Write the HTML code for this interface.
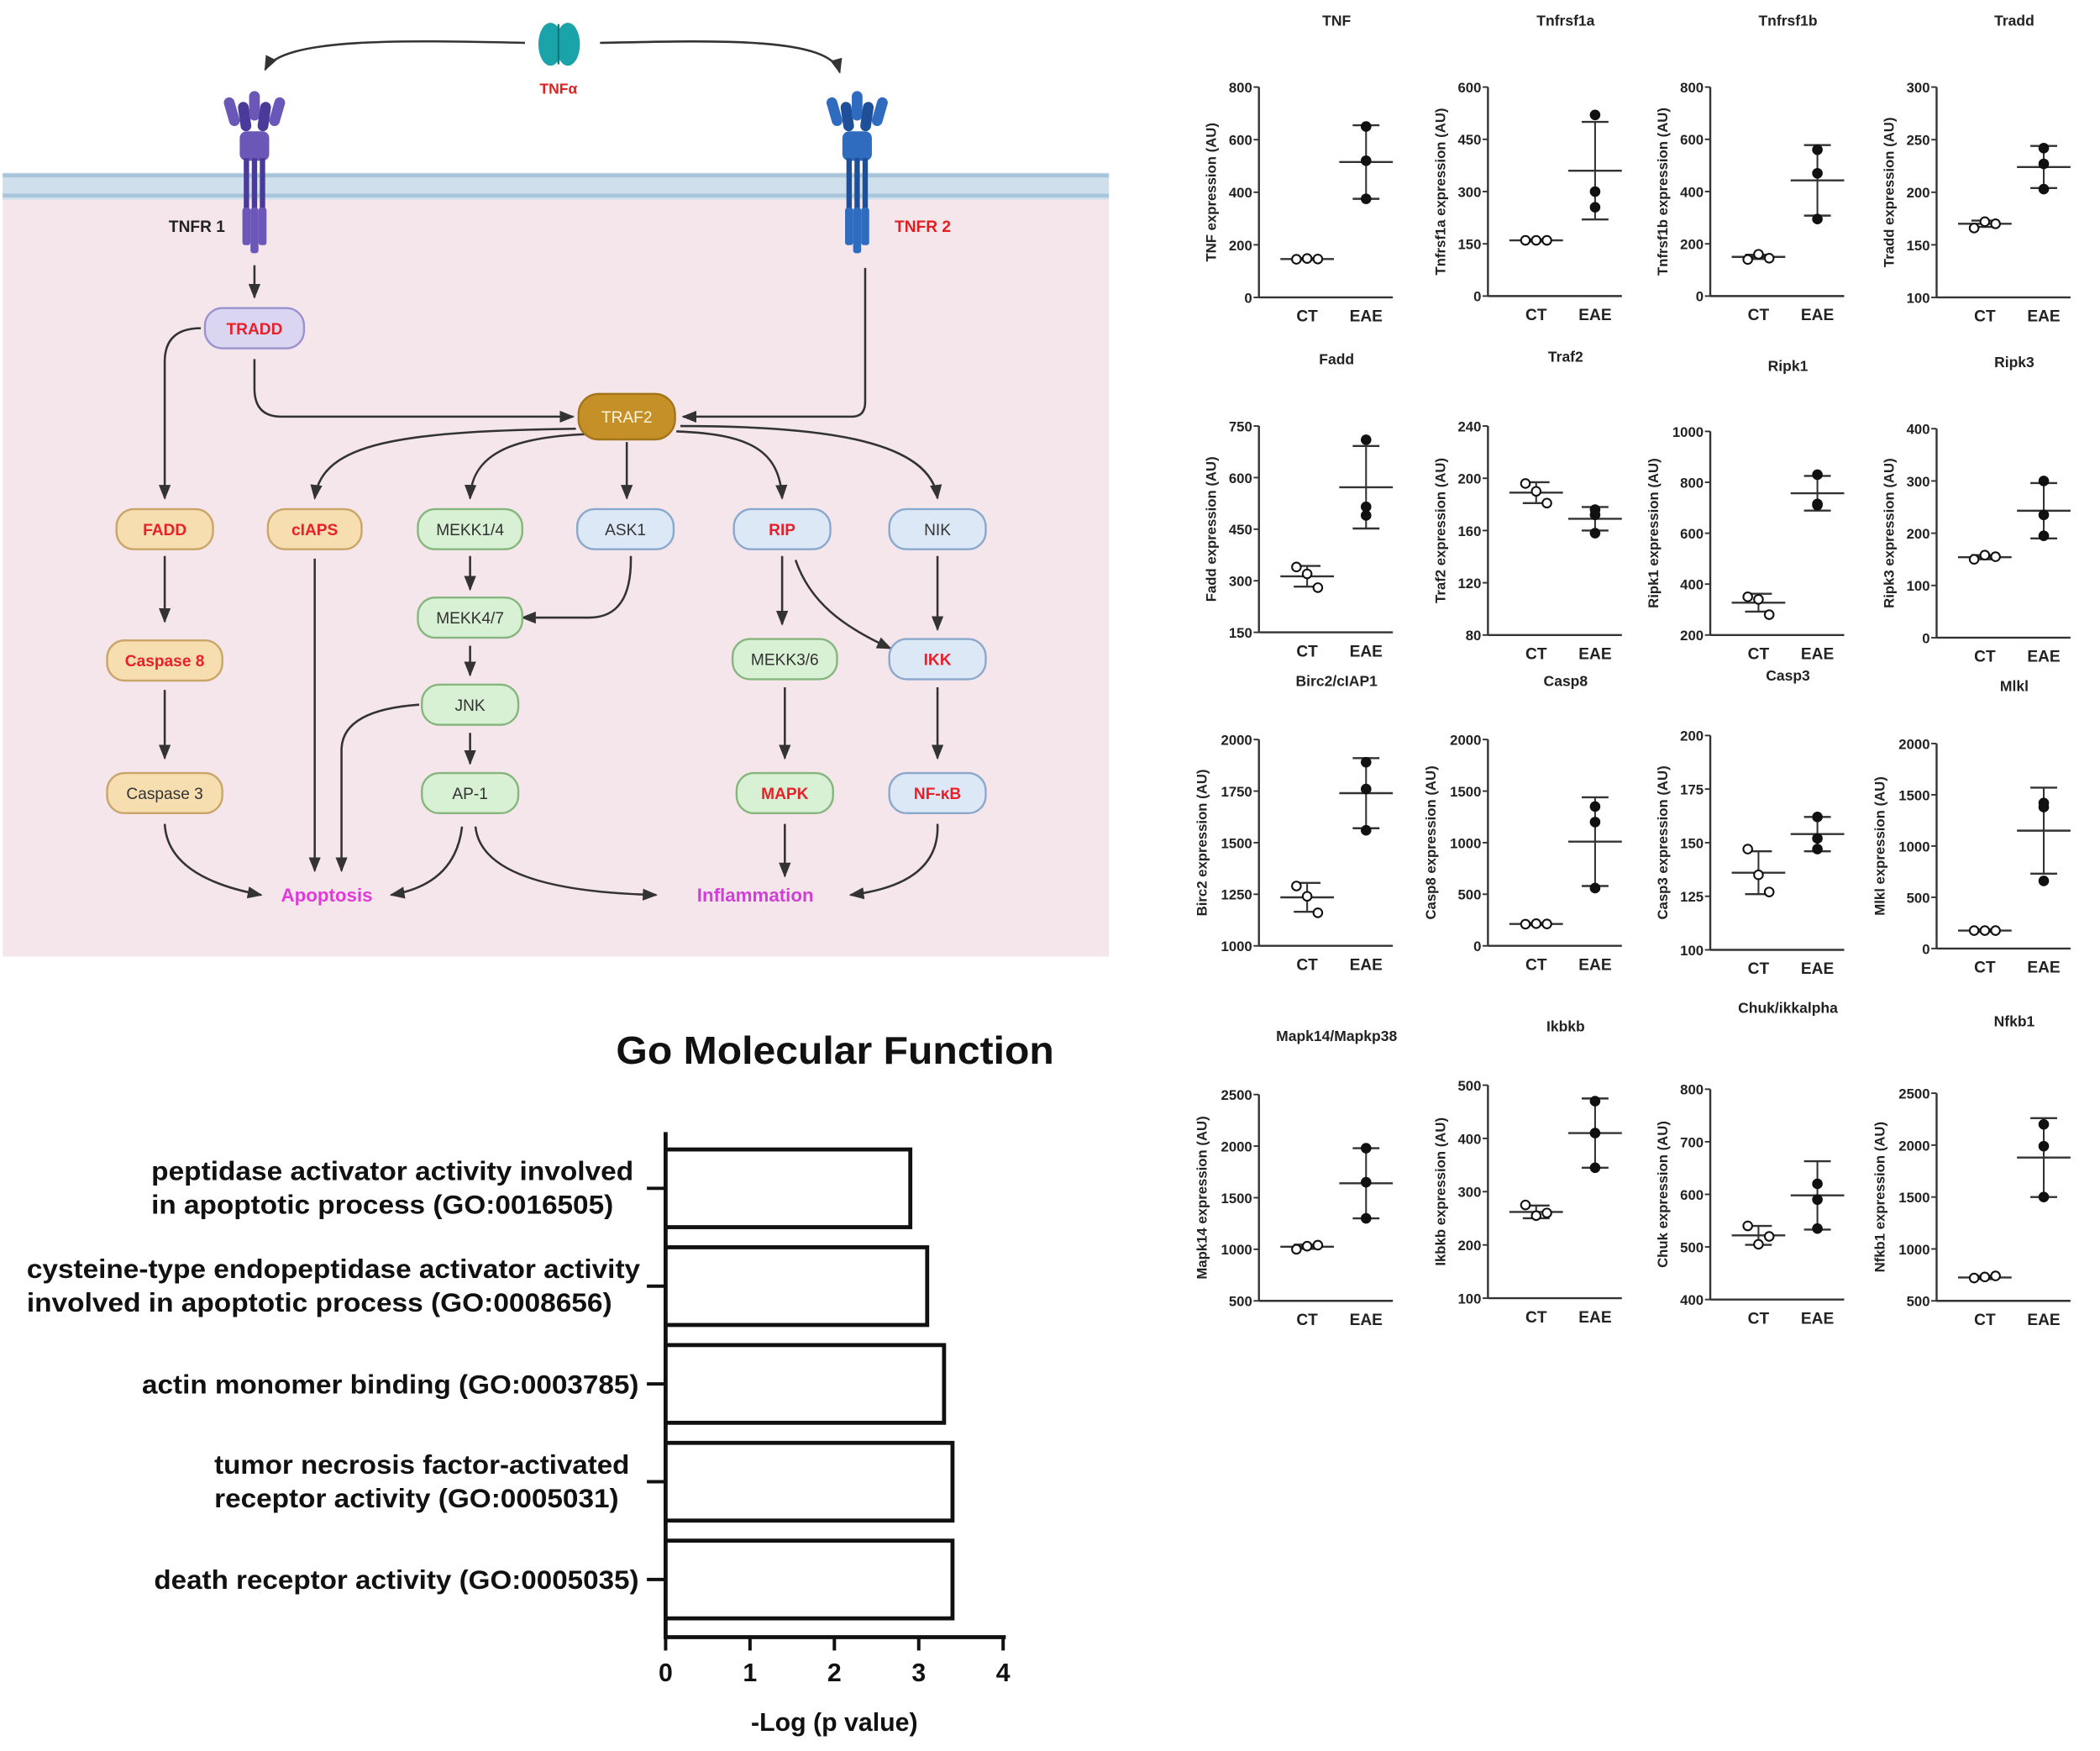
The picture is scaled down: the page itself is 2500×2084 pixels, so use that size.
<!DOCTYPE html>
<html><head><meta charset="utf-8"><style>
html,body{margin:0;padding:0;background:#fff}
svg{display:block}
text{font-family:"Liberation Sans",Arial,sans-serif}
</style></head><body>
<svg id="s" width="2500" height="2084" viewBox="0 0 1568 1307" preserveAspectRatio="none" xmlns="http://www.w3.org/2000/svg">
<defs>
<marker id="ar" viewBox="0 0 10 10" refX="9" refY="5" markerWidth="7" markerHeight="7" orient="auto"><path d="M0,1 L10,5 L0,9 z" fill="#333"/></marker>
</defs>
<rect x="2" y="140" width="826" height="574" fill="#f5e6ec"/>
<rect x="2" y="129" width="826" height="20" fill="#cfe0ec"/>
<line x1="2" y1="131" x2="828" y2="131" stroke="#a9c5da" stroke-width="3"/>
<line x1="2" y1="146" x2="828" y2="146" stroke="#a9c5da" stroke-width="3"/>
<ellipse cx="411" cy="33" rx="9" ry="16" fill="#1aa3a8"/><ellipse cx="424" cy="33" rx="9" ry="16" fill="#1aa3a8"/>
<line x1="417" y1="18" x2="417" y2="48" stroke="#0d7c80" stroke-width="1.5"/>
<text x="417" y="70" font-size="11" font-weight="bold" fill="#e02020" text-anchor="middle">TNFα</text>
<g fill="none" stroke="#333" stroke-width="1.6" marker-end="url(#ar)">
<path d="M392,32 C300,30 210,28 198,52"/>
<path d="M448,32 C540,30 620,28 627,54"/>
<path d="M190,198 L190,222"/>
<path d="M190,268 L190,290 Q190,311 210,311 L428,311"/>
<path d="M646,200 L646,300 Q646,311 636,311 L510,311"/>
<path d="M150,245 Q123,245 123,270 L123,372"/>
<path d="M430,320 C300,322 240,330 235,372"/>
<path d="M440,324 C380,326 352,340 351,372"/>
<path d="M468,330 L468,372"/>
<path d="M505,322 C560,324 582,336 584,372"/>
<path d="M508,318 C620,318 695,330 700,372"/>
<path d="M123,415 L123,464"/>
<path d="M123,515 L123,566"/>
<path d="M351,415 L351,440"/>
<path d="M471,415 Q472,461 440,461 L390,461"/>
<path d="M351,482 L351,504"/>
<path d="M351,547 L351,570"/>
<path d="M584,415 L584,466"/>
<path d="M594,418 C605,450 630,468 665,484"/>
<path d="M700,415 L700,470"/>
<path d="M586,513 L586,566"/>
<path d="M700,513 L700,566"/>
<path d="M235,417 L235,650"/>
<path d="M313,526 Q255,530 255,560 L255,650"/>
<path d="M123,615 Q125,655 195,668"/>
<path d="M345,617 Q340,660 292,668"/>
<path d="M355,617 Q360,665 490,668"/>
<path d="M586,615 L586,654"/>
<path d="M700,615 Q702,660 635,668"/>
</g>
<text x="244" y="673" font-size="14" font-weight="bold" fill="#e23ad8" text-anchor="middle">Apoptosis</text>
<text x="564" y="673" font-size="14" font-weight="bold" fill="#d13fd6" text-anchor="middle">Inflammation</text>
<g id="rec"></g>
<g id="nodes"></g>
<text x="168" y="173" font-size="12" font-weight="bold" fill="#222" text-anchor="end">TNFR 1</text>
<text x="668" y="173" font-size="12" font-weight="bold" fill="#e02020">TNFR 2</text>
<text x="460" y="794" font-size="29" font-weight="bold" fill="#111" textLength="327" lengthAdjust="spacingAndGlyphs">Go Molecular Function</text>
<g id="go"></g>
<g id="plots"></g>
</svg>
<script>
const NS="http://www.w3.org/2000/svg";
function el(p,t,a,txt){const e=document.createElementNS(NS,t);for(const k in a)e.setAttribute(k,a[k]);if(txt!==undefined)e.textContent=txt;p.appendChild(e);return e;}
const rec=document.getElementById('rec');
function receptor(cx,c1,c2){
 [-18,-9,0,9,18].forEach((d,i)=>{
  const top= (i==0||i==4)?72:68;
  el(rec,'rect',{x:cx+d*0.8-4,y:top+(i%2?8:0),width:8,height:22,rx:4,fill:i%2?c2:c1,transform:`rotate(${d*0.9} ${cx+d*0.8} ${top+20})`});
 });
 el(rec,'rect',{x:cx-11,y:98,width:22,height:22,rx:5,fill:c1});
 [-6,0,6].forEach(d=>el(rec,'rect',{x:cx+d-2,y:118,width:4,height:40,fill:c2}));
 [-6,0,6].forEach(d=>el(rec,'rect',{x:cx+d-3,y:155,width:6,height:d==0?34:28,rx:2,fill:c1}));
}
receptor(190,'#6b57b8','#4a3a9a');
receptor(640,'#2f6cc0','#1f4f99');
const N=document.getElementById('nodes');
const O=['#f7deb0','#c9a56a'],G=['#d8f0d3','#86b67e'],B=['#dde8f6','#8aa8cc'],L=['#dad6f2','#9a92cf'];
function node(x,y,t,c,red,w){w=w||72;el(N,'rect',{x:x-w/2,y:y-15,width:w,height:30,rx:13,fill:c[0],stroke:c[1],'stroke-width':1.5});
 el(N,'text',{x:x,y:y+4.5,'font-size':12,'font-weight':red?'bold':'normal',fill:red?'#e8202a':'#333','text-anchor':'middle'},t);}
node(190,245,'TRADD',L,1,74);
el(N,'rect',{x:432,y:294,width:72,height:34,rx:15,fill:'#c69028',stroke:'#a4741a','stroke-width':1.5});
el(N,'text',{x:468,y:315.5,'font-size':12,fill:'#fff6e0','text-anchor':'middle'},'TRAF2');
node(123,395,'FADD',O,1);node(235,395,'cIAPS',O,1,70);node(351,395,'MEKK1/4',G,0,78);node(467,395,'ASK1',B,0);
node(584,395,'RIP',B,1);node(700,395,'NIK',B,0);node(351,461,'MEKK4/7',G,0,78);
node(123,493,'Caspase 8',O,1,86);node(586,492,'MEKK3/6',G,0,78);node(700,492,'IKK',B,1);
node(351,526,'JNK',G,0);node(123,592,'Caspase 3',O,0,86);node(351,592,'AP-1',G,0);node(586,592,'MAPK',G,1);node(700,592,'NF-κB',B,1);
const go=document.getElementById('go');
const x0=497,xs=63;
el(go,'line',{x1:x0,y1:845,x2:x0,y2:1223,stroke:'#111','stroke-width':3});
el(go,'line',{x1:x0-1.5,y1:1222,x2:751,y2:1222,stroke:'#111','stroke-width':3});
for(let i=0;i<=4;i++){el(go,'line',{x1:x0+i*xs,y1:1222,x2:x0+i*xs,y2:1232,stroke:'#111','stroke-width':2.5});
 el(go,'text',{x:x0+i*xs,y:1255,'font-size':19,'font-weight':'bold','text-anchor':'middle',fill:'#111'},String(i));}
el(go,'text',{x:623,y:1292,'font-size':19,'font-weight':'bold','text-anchor':'middle',fill:'#111'},'-Log (p value)');
const bars=[[858,2.9,[['peptidase activator activity involved',113,360],['in apoptotic process (GO:0016505)',113,345]]],
[931,3.1,[['cysteine-type endopeptidase activator activity',20,458],['involved in apoptotic process (GO:0008656)',20,437]]],
[1004,3.3,[['actin monomer binding (GO:0003785)',106,371]]],
[1077,3.4,[['tumor necrosis factor-activated',160,310],['receptor activity (GO:0005031)',160,302]]],
[1150,3.4,[['death receptor activity (GO:0005035)',115,362]]]];
bars.forEach(b=>{const y=b[0];el(go,'rect',{x:x0,y:y,width:b[1]*xs,height:58,fill:'#fff',stroke:'#111','stroke-width':3});
 const cy=y+29;el(go,'line',{x1:x0-14,y1:cy,x2:x0,y2:cy,stroke:'#111','stroke-width':2.5});
 const L=b[2];
 L.forEach((l,j)=>{const yy=L.length==2?(j==0?cy-6:cy+19):cy+7;
  el(go,'text',{x:l[1],y:yy,'font-size':20,'font-weight':'bold',fill:'#111',textLength:l[2],lengthAdjust:'spacingAndGlyphs'},l[0]);});
});
const P=document.getElementById('plots');
const colX=[940,1111,1277,1446];
const defs=[
['TNF','TNF',15,65,222,0,800,200,[145,148,146],146,3,[650,520,375],515,140],
['Tnfrsf1a','Tnfrsf1a',15,65,221,0,600,150,[160,160,160],160,3,[520,300,255],360,140],
['Tnfrsf1b','Tnfrsf1b',15,65,221,0,800,200,[140,160,145],150,8,[560,470,295],443,135],
['Tradd','Tradd',15,65,222,100,300,50,[166,172,170],170,3,[242,227,203],224,20],
['Fadd','Fadd',268,318,472,150,750,150,[340,320,280],313,30,[710,515,490],572,120],
['Traf2','Traf2',266,318,474,80,240,40,[196,190,181],189,8,[176,172,158],169,9],
['Ripk1','Ripk1',273,322,474,200,1000,200,[350,340,280],327,35,[830,715,710],757,68],
['Ripk3','Ripk3',270,320,476,0,400,100,[150,158,155],154,4,[300,235,195],243,53],
['Birc2/cIAP1','Birc2',508,552,706,1000,2000,250,[1290,1240,1160],1235,70,[1890,1760,1560],1740,170],
['Casp8','Casp8',508,552,706,0,2000,500,[210,215,212],212,10,[1350,1200,560],1010,430],
['Casp3','Casp3',504,549,709,100,200,25,[147,135,127],136,10,[162,152,147],154,8],
['Mlkl','Mlkl',512,555,708,0,2000,500,[175,175,175],175,12,[1420,1380,660],1150,420],
['Mapk14/Mapkp38','Mapk14',773,817,971,500,2500,500,[1000,1030,1040],1025,20,[1980,1650,1300],1640,340],
['Ikbkb','Ikbkb',766,810,969,100,500,100,[275,255,260],262,12,[470,410,345],410,65],
['Chuk/ikkalpha','Chuk',752,813,970,400,800,100,[540,505,520],522,18,[620,590,535],598,65],
['Nfkb1','Nfkb1',762,816,971,500,2500,500,[720,730,740],725,15,[2200,1990,1500],1880,380]];
defs.forEach((d,i)=>{
 const ax=colX[i%4],[title,lab,ty,top,bot,mn,mx,st,ct,cm,cs,ea,em,es]=d;
 const Y=v=>bot-(v-mn)/(mx-mn)*(bot-top);
 const S='#333';
 const len=String(mx).length;
 el(P,'text',{x:ax+58,y:ty+4,'font-size':11,'font-weight':'bold','text-anchor':'middle',fill:'#222'},title);
 el(P,'line',{x1:ax,y1:top,x2:ax,y2:bot,stroke:S,'stroke-width':1.5});
 el(P,'line',{x1:ax,y1:bot,x2:ax+100,y2:bot,stroke:S,'stroke-width':1.5});
 for(let v=mn;v<=mx+1e-6;v+=st){const y=Y(v);el(P,'line',{x1:ax-4,y1:y,x2:ax,y2:y,stroke:S,'stroke-width':1.2});
  el(P,'text',{x:ax-5,y:y+4,'font-size':10.5,'font-weight':'bold','text-anchor':'end',fill:'#222'},String(v));}
 el(P,'text',{x:0,y:0,'font-size':10.5,'font-weight':'bold','text-anchor':'middle',fill:'#222',transform:`translate(${ax-(len>=4?39:len==3?32:26)},${(top+bot)/2}) rotate(-90)`},lab+' expression (AU)');
 const cx=ax+36,ex=ax+80;
 el(P,'text',{x:cx,y:bot+18,'font-size':12,'font-weight':'bold','text-anchor':'middle',fill:'#222'},'CT');
 el(P,'text',{x:ex,y:bot+18,'font-size':12,'font-weight':'bold','text-anchor':'middle',fill:'#222'},'EAE');
 function grp(x,pts,m,s,open){
  el(P,'line',{x1:x-20,y1:Y(m),x2:x+20,y2:Y(m),stroke:S,'stroke-width':1.5});
  el(P,'line',{x1:x,y1:Y(m-s),x2:x,y2:Y(m+s),stroke:S,'stroke-width':1.3});
  el(P,'line',{x1:x-10,y1:Y(m-s),x2:x+10,y2:Y(m-s),stroke:S,'stroke-width':1.5});
  el(P,'line',{x1:x-10,y1:Y(m+s),x2:x+10,y2:Y(m+s),stroke:S,'stroke-width':1.5});
  pts.forEach((v,j)=>{const px=open?x+(j-1)*8:x;
   el(P,'circle',{cx:px,cy:Y(v),r:3.3,fill:open?'#fff':'#111',stroke:'#111','stroke-width':1.3});});
 }
 grp(cx,ct,cm,cs,true);grp(ex,ea,em,es,false);
});
</script>
</body></html>
